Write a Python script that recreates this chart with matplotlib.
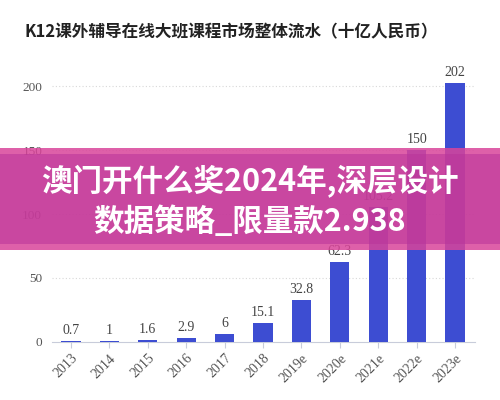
import matplotlib
matplotlib.use('Agg')
import matplotlib.pyplot as plt
from matplotlib.patches import Rectangle

plt.rcParams['font.family'] = ['Noto Sans CJK SC', 'DejaVu Sans']

TITLE = 'K12课外辅导在线大班课程市场整体流水（十亿人民币）'
BANNER = ['澳门开什么奖2024年,深层设计', '数据策略_限量款2.938']

years = ['2013', '2014', '2015', '2016', '2017', '2018',
         '2019e', '2020e', '2021e', '2022e', '2023e']
values = [0.7, 1, 1.6, 2.9, 6, 15.1, 32.8, 62.3, 105.2, 150, 202]
labels = ['0.7', '1', '1.6', '2.9', '6', '15.1', '32.8', '62.3', '105.2', '150', '202']
yticks = [0, 50, 100, 150, 200]

BAR = '#3D4DD2'
SERIF = 'Liberation Serif'

fig = plt.figure(figsize=(5, 4), dpi=100)
ax = fig.add_axes([0.104, 0.145, 0.846, 0.68])

x = list(range(len(years)))
ax.bar(x, values, width=0.5, color=BAR, zorder=3)
for xi, v, lab in zip(x, values, labels):
    ax.annotate(lab, (xi, v), textcoords='offset points', xytext=(0, 3),
                ha='center', va='bottom', fontsize=10, color='#444444', family=SERIF)

ax.set_xlim(-0.495, 10.52)
ax.set_ylim(0, 212.5)
ax.set_yticks(yticks)
ax.set_yticklabels([str(t) for t in yticks], family=SERIF, fontsize=9.5, color='#555555')
ax.set_xticks(x)
ax.set_xticklabels(years, rotation=45, ha='right', va='top', rotation_mode='anchor',
                   family=SERIF, fontsize=10, color='#555555')
ax.tick_params(axis='y', length=0, pad=7)
ax.tick_params(axis='x', length=4, color='#C8CCDA', pad=3)
for t in yticks[1:]:
    ax.axhline(t, color='#D8D8D8', lw=0.8, ls=(0, (1, 2)), zorder=1)
for s in ['top', 'right', 'left']:
    ax.spines[s].set_visible(False)
ax.spines['bottom'].set_color('#C8CCDA')

fig.text(0.048, 0.92, TITLE, fontsize=12, fontweight='bold', color='#222222',
         ha='left', va='center')

# overlay banner
fig.patches.append(Rectangle((0, 0.375), 1, 0.255, transform=fig.transFigure,
                             facecolor='#D9449A', alpha=0.85, zorder=5))
fig.patches.append(Rectangle((0, 0.39), 1, 0.225, transform=fig.transFigure,
                             facecolor='#B8349A', alpha=0.55, zorder=6))
fig.text(0.5, 0.545, BANNER[0], fontsize=22, fontweight='bold', color='white',
         ha='center', va='center', zorder=7)
fig.text(0.5, 0.445, BANNER[1], fontsize=22, fontweight='bold', color='white',
         ha='center', va='center', zorder=7)

fig.savefig('out.png', dpi=100)
